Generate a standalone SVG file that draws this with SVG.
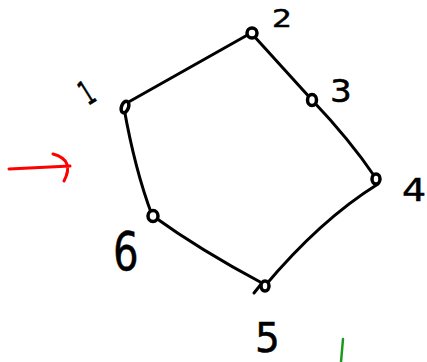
<svg xmlns="http://www.w3.org/2000/svg" width="427" height="362" viewBox="0 0 427 362">
<style>
.edge{fill:none;stroke:#000;stroke-width:3;stroke-linecap:round;stroke-linejoin:round}
.node{fill:#fff;stroke:#000;stroke-width:3.5}
.lbl{font-family:"DejaVu Sans",sans-serif;fill:#000;stroke:#000;stroke-width:0.6;font-weight:normal}
</style>
<rect width="427" height="362" fill="#fff"/>
<g id="connectors">
<path class="edge" d="M125,104 L251,33"/>
<path class="edge" d="M253,35 L312,100"/>
<path class="edge" d="M312,100 Q350,140 375,177"/>
<path class="edge" d="M378,184 Q320,220 264,287"/>
<path class="edge" d="M153,216 Q200,250 262,283 L254,293"/>
<path class="edge" d="M124,108 Q135,170 152,215"/>
</g>
<g id="node1"><ellipse class="node" cx="125" cy="107" rx="3.5" ry="6" transform="rotate(20 125 107)"/><text class="lbl" x="0" y="0" font-size="34" transform="translate(88,106) rotate(-32) scale(0.55,1)">1</text></g>
<g id="node2"><ellipse class="node" cx="252" cy="33" rx="5" ry="5"/><text class="lbl" x="272" y="27" font-size="30" transform="translate(272,27) scale(1.05,0.85) translate(-272,-27)">2</text></g>
<g id="node3"><ellipse class="node" cx="312" cy="100" rx="4.5" ry="5.5"/><text class="lbl" x="330" y="102" font-size="38" transform="translate(330,102) scale(0.9,0.85) translate(-330,-102)">3</text></g>
<g id="node4"><ellipse class="node" cx="376" cy="179" rx="4" ry="5"/><text class="lbl" x="402" y="201" font-size="40" transform="translate(402,201) scale(0.95,0.8) translate(-402,-201)">4</text></g>
<g id="node5"><ellipse class="node" cx="265" cy="286" rx="4" ry="5"/><text class="lbl" x="255" y="352" font-size="46" transform="translate(255,352) scale(0.85,0.9) translate(-255,-352)">5</text></g>
<g id="node6"><ellipse class="node" cx="153" cy="216" rx="5" ry="5.5"/><text class="lbl" x="113" y="270" font-size="62" transform="translate(113,270) scale(0.65,0.85) translate(-113,-270)">6</text></g>
<g id="marks">
<path d="M9,169 L70,166 M53,154 Q75,160 64,181" fill="none" stroke="#f00" stroke-width="3" stroke-linecap="round"/>
<path d="M343,339 L341,362" fill="none" stroke="#1a9a1a" stroke-width="2.5" stroke-linecap="round"/>
</g>
</svg>
